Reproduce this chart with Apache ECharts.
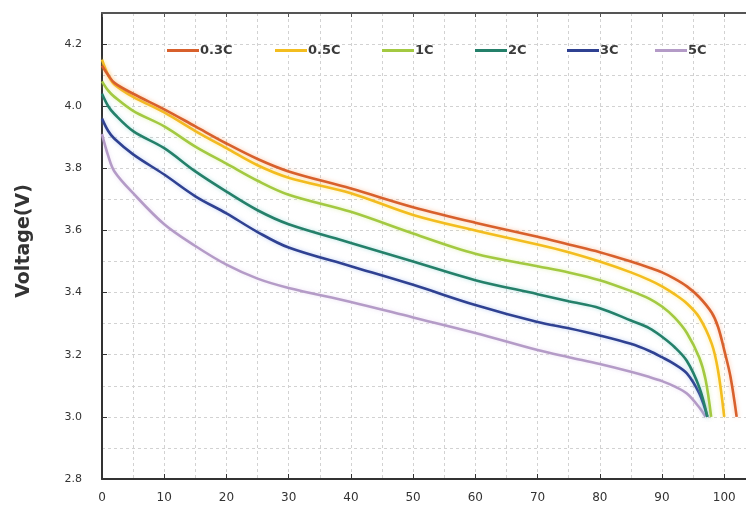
<!DOCTYPE html>
<html>
<head>
<meta charset="utf-8">
<script src="https://cdn.jsdelivr.net/npm/echarts@6/dist/echarts.min.js"></script>
<style>
html,body{margin:0;padding:0;background:#fff;}
#chart{width:746px;height:509px;}
</style>
</head>
<body>
<div id="chart"></div>
<script>
// Series names
var seriesNames = ['0.3C', '0.5C', '1C', '2C', '3C', '5C'];

// Capacity (%) sample points and voltage readings (V) per discharge rate
var x03 = [0, 1, 2, 5, 10, 15, 20, 25, 30, 40, 50, 60, 70, 75, 80, 85, 88, 90, 92, 94, 96, 98, 99, 100, 101, 102];
var v03 = [4.13, 4.10, 4.075, 4.04, 3.99, 3.935, 3.88, 3.83, 3.79, 3.735, 3.675, 3.625, 3.58, 3.555, 3.53, 3.50, 3.48, 3.465, 3.445, 3.42, 3.385, 3.335, 3.29, 3.215, 3.13, 3.0];

var x05 = [0, 1, 2, 5, 10, 15, 20, 25, 30, 40, 50, 60, 70, 75, 80, 85, 88, 90, 92, 94, 96, 98, 99, 100];
var v05 = [4.15, 4.10, 4.07, 4.03, 3.98, 3.92, 3.865, 3.81, 3.77, 3.72, 3.65, 3.60, 3.555, 3.53, 3.50, 3.465, 3.44, 3.42, 3.395, 3.365, 3.32, 3.235, 3.15, 3.0];

var x1 = [0, 1, 2, 5, 10, 15, 20, 25, 30, 40, 50, 60, 70, 75, 80, 85, 88, 90, 92, 94, 96, 97, 97.9];
var v1 = [4.08, 4.05, 4.03, 3.985, 3.935, 3.87, 3.815, 3.76, 3.715, 3.66, 3.59, 3.525, 3.485, 3.465, 3.44, 3.405, 3.38, 3.355, 3.32, 3.27, 3.19, 3.12, 3.0];

var x2 = [0, 1, 2, 5, 10, 15, 20, 25, 30, 40, 50, 60, 70, 75, 80, 85, 88, 90, 92, 94, 96, 97.3];
var v2 = [4.04, 4.00, 3.975, 3.92, 3.865, 3.79, 3.725, 3.665, 3.62, 3.56, 3.50, 3.44, 3.395, 3.372, 3.35, 3.31, 3.285, 3.258, 3.225, 3.18, 3.095, 3.0];

var x3 = [0, 1, 2, 5, 10, 15, 20, 25, 30, 40, 50, 60, 70, 75, 80, 85, 88, 90, 92, 94, 96, 97.3];
var v3 = [3.96, 3.92, 3.895, 3.845, 3.78, 3.71, 3.655, 3.595, 3.545, 3.485, 3.425, 3.36, 3.305, 3.285, 3.262, 3.235, 3.212, 3.192, 3.17, 3.14, 3.075, 3.0];

var x5 = [0, 1, 2, 5, 10, 15, 20, 25, 30, 40, 50, 60, 70, 75, 80, 85, 88, 90, 92, 94, 96, 97];
var v5 = [3.91, 3.84, 3.79, 3.72, 3.62, 3.55, 3.49, 3.445, 3.415, 3.37, 3.32, 3.27, 3.215, 3.192, 3.17, 3.145, 3.128, 3.115, 3.098, 3.075, 3.03, 3.0];

// Axis settings
var yMin = 2.8, yMax = 4.3, yStep = 0.2;
var xMin = 0, xMax = 103.5, xStep = 10;

var xs = [x03, x05, x1, x2, x3, x5];
var vs = [v03, v05, v1, v2, v3, v5];
var colors = ['#d8602c', '#f3bd1f', '#a3c941', '#24806a', '#2f4192', '#b49bc7'];
var glow = ['rgba(245,150,90,0.55)', 'rgba(250,220,80,0.55)', 'rgba(200,230,120,0.55)', 'rgba(120,200,200,0.55)', 'rgba(140,170,230,0.55)', 'rgba(220,200,235,0.55)'];
var legendLeft = [167, 275, 382, 475, 567, 655];

var chart = echarts.init(document.getElementById('chart'), null, {renderer: 'canvas'});

var gridLine = {show: true, lineStyle: {color: '#d2d2d2', width: 1, type: [3, 3]}};

var series = seriesNames.map(function (name, i) {
  return {
    name: name,
    type: 'line',
    data: xs[i].map(function (x, j) { return [x, vs[i][j]]; }),
    showSymbol: false,
    smooth: 0.35,
    lineStyle: {color: colors[i], width: 2.6, shadowColor: glow[i], shadowBlur: 4},
    itemStyle: {color: colors[i]},
    emphasis: {disabled: true},
    z: 10 - i
  };
});

var legends = seriesNames.map(function (name, i) {
  return {
    data: [name],
    left: legendLeft[i],
    top: 44,
    padding: 0,
    icon: 'rect',
    itemWidth: 32,
    itemHeight: 3,
    itemGap: 0,
    selectedMode: false,
    textStyle: {fontFamily: 'DejaVu Sans', fontSize: 13, fontWeight: 'bold', color: '#3a3a3a', padding: [0, 0, 0, -4]}
  };
});

chart.setOption({
  animation: false,
  backgroundColor: '#fff',
  legend: legends,
  grid: {left: 102, right: 0, top: 13, bottom: 30, containLabel: false},
  xAxis: [{
    type: 'value',
    min: xMin, max: xMax, interval: xStep,
    axisLine: {show: true, lineStyle: {color: '#333', width: 2}},
    axisTick: {show: true, inside: true, length: 5, lineStyle: {color: '#333'}},
    axisLabel: {showMaxLabel: false, margin: 13, fontFamily: 'DejaVu Sans', fontSize: 12, color: '#333'},
    splitLine: gridLine,
    minorTick: {show: false, splitNumber: 2},
    minorSplitLine: gridLine
  }, {
    type: 'value', position: 'top',
    min: xMin, max: xMax, interval: xStep,
    axisLine: {show: true, lineStyle: {color: '#555', width: 2}},
    axisTick: {show: true, inside: true, length: 4, lineStyle: {color: '#555'}},
    axisLabel: {show: false},
    splitLine: {show: false}
  }],
  yAxis: {
    type: 'value',
    min: yMin, max: yMax, interval: yStep,
    name: 'Voltage(V)',
    nameLocation: 'middle',
    nameGap: 68,
    nameRotate: 90,
    nameTextStyle: {fontFamily: 'DejaVu Sans', fontSize: 19, fontWeight: 'bold', color: '#333', padding: [0, 0, 0, 10]},
    axisLine: {show: true, lineStyle: {color: '#333', width: 2}},
    axisTick: {show: true, inside: true, length: 5, lineStyle: {color: '#333'}},
    axisLabel: {
      showMaxLabel: false, margin: 20,
      fontFamily: 'DejaVu Sans', fontSize: 11, color: '#333',
      formatter: function (v) { return v.toFixed(1); }
    },
    splitLine: gridLine,
    minorTick: {show: false, splitNumber: 2},
    minorSplitLine: gridLine
  },
  series: series
});
</script>
</body>
</html>
